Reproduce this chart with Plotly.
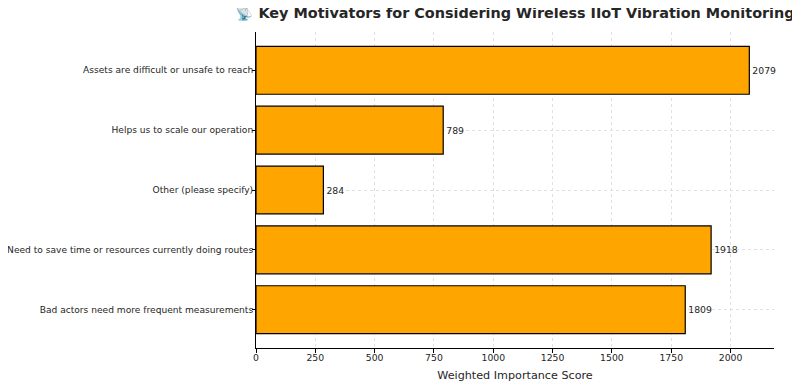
import plotly.graph_objects as go

categories = [
    "Bad actors need more frequent measurements",
    "Need to save time or resources currently doing routes",
    "Other (please specify)",
    "Helps us to scale our operation",
    "Assets are difficult or unsafe to reach",
]
scores = [1809, 1918, 284, 789, 2079]
x_ticks = [0, 250, 500, 750, 1000, 1250, 1500, 1750, 2000]

title_text = "📡 Key Motivators for Considering Wireless IIoT Vibration Monitoring"
x_title = "Weighted Importance Score"

font_family = "DejaVu Sans"
text_color = "#262626"

fig = go.Figure()
fig.add_trace(go.Bar(
    x=scores,
    y=categories,
    orientation="h",
    width=0.8,
    marker=dict(color="#FFA500", line=dict(color="#000000", width=1.2)),
    text=[str(v) for v in scores],
    textposition="outside",
    textfont=dict(family=font_family, size=9.3, color=text_color),
    cliponaxis=False,
    hoverinfo="x+y",
))

# page body has an 8px default margin, so the figure is offset by 8px
fig.update_layout(
    width=792,
    height=379,
    margin=dict(l=248, r=26, t=24, b=39),
    paper_bgcolor="white",
    plot_bgcolor="white",
    showlegend=False,
    font=dict(family=font_family, size=9.2, color=text_color),
    title=dict(
        text="<b>" + title_text + "</b>",
        x=0.5,
        xref="paper",
        xanchor="center",
        y=0.987,
        yref="container",
        yanchor="middle",
        font=dict(family=font_family, size=14.4, color=text_color),
    ),
)

fig.update_xaxes(
    range=[0, 2183],
    tickmode="array",
    tickvals=x_ticks,
    ticktext=[str(t) for t in x_ticks],
    ticks="outside",
    ticklen=3.5,
    tickcolor="#000000",
    ticklabelstandoff=-3,
    showline=True,
    linecolor="#000000",
    linewidth=1,
    showgrid=True,
    gridcolor="#e0e0e0",
    griddash="3px,3px",
    gridwidth=0.8,
    zeroline=False,
    automargin=False,
    tickfont=dict(family=font_family, size=9.3, color=text_color),
    title=dict(text=x_title, font=dict(family=font_family, size=11.2, color=text_color), standoff=9),
)
fig.update_yaxes(
    type="category",
    categoryorder="array",
    categoryarray=categories,
    range=[-0.64, 4.64],
    ticks="outside",
    ticklen=3,
    tickcolor="#000000",
    ticklabelstandoff=-3,
    showline=True,
    linecolor="#000000",
    linewidth=1,
    showgrid=True,
    gridcolor="#e0e0e0",
    griddash="3px,3px",
    gridwidth=0.8,
    automargin=False,
    tickfont=dict(family=font_family, size=9.1, color=text_color),
)

fig.write_html("out.html")
